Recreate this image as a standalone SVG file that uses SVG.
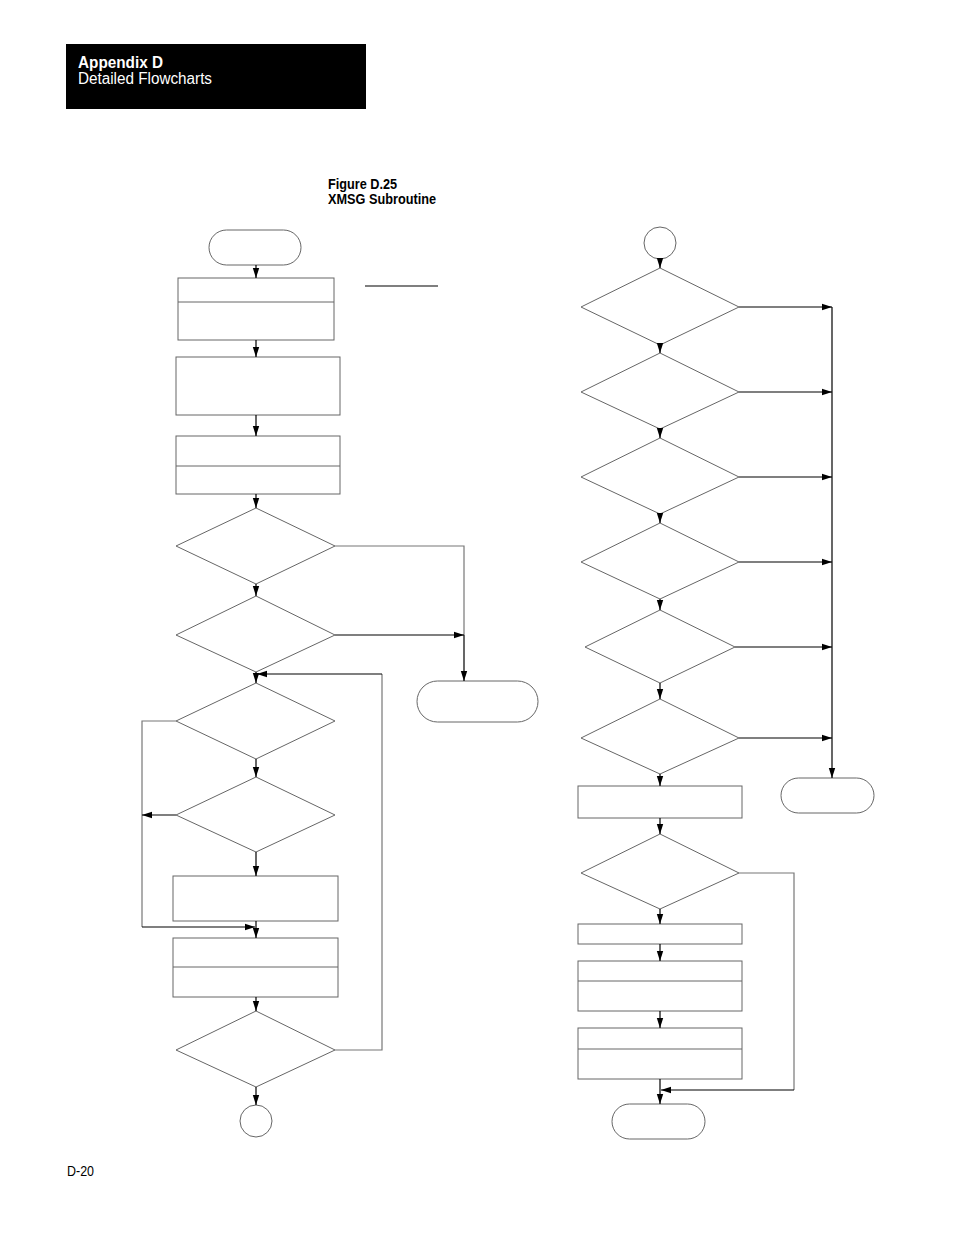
<svg xmlns="http://www.w3.org/2000/svg" width="954" height="1235" viewBox="0 0 954 1235">
<style>
.s{fill:#fff;stroke:#666;stroke-width:1}
.c{fill:none;stroke:#000;stroke-width:1.2}
.g{fill:none;stroke:#777;stroke-width:1.2}
.t{font-family:"Liberation Sans",Arial,sans-serif}
</style>
<defs>
<marker id="ah" markerUnits="userSpaceOnUse" markerWidth="11" markerHeight="8" refX="10" refY="4" orient="auto">
<path d="M0,0.8 L10,4 L0,7.2 Z" fill="#000"/>
</marker>
</defs>
<rect x="0" y="0" width="954" height="1235" fill="#fff"/>
<g id="header">
<rect x="66" y="44" width="300" height="65" fill="#000"/>
<text x="78" y="68" class="t" font-size="16" font-weight="bold" fill="#fff" textLength="85" lengthAdjust="spacingAndGlyphs">Appendix D</text>
<text x="78" y="84" class="t" font-size="16" fill="#fff" textLength="134" lengthAdjust="spacingAndGlyphs">Detailed Flowcharts</text>
</g>
<g id="title">
<text x="328" y="189" class="t" font-size="14" font-weight="bold" textLength="69" lengthAdjust="spacingAndGlyphs">Figure D.25</text>
<text x="328" y="204" class="t" font-size="14" font-weight="bold" textLength="108" lengthAdjust="spacingAndGlyphs">XMSG Subroutine</text>
</g>
<text id="page" x="67" y="1176" class="t" font-size="15" textLength="27" lengthAdjust="spacingAndGlyphs">D-20</text>

<g id="start"><rect class="s" x="209" y="230" width="92" height="35" rx="17.5"/></g>
<g id="box1"><rect class="s" x="178" y="278" width="156" height="62"/><line class="s" x1="178" y1="302" x2="334" y2="302"/></g>
<line id="underline" x1="365" y1="286" x2="438" y2="286" stroke="#000" stroke-width="1.2"/>
<g id="box2"><rect class="s" x="176" y="357" width="164" height="58"/></g>
<g id="box3"><rect class="s" x="176" y="436" width="164" height="58"/><line class="s" x1="176" y1="466" x2="340" y2="466"/></g>
<g id="dec1"><polygon class="s" points="256,508 335,546 256,584 176,546"/></g>
<g id="dec2"><polygon class="s" points="256,596 335,635 256,672 176,635"/></g>
<g id="exit1"><rect class="s" x="417" y="681" width="121" height="41" rx="20.5"/></g>
<g id="dec3"><polygon class="s" points="256,683 335,721 256,759 176,721"/></g>
<g id="dec4"><polygon class="s" points="256,777 335,815 256,852 176,815"/></g>
<g id="box4"><rect class="s" x="173" y="876" width="165" height="45"/></g>
<g id="box5"><rect class="s" x="173" y="938" width="165" height="59"/><line class="s" x1="173" y1="967" x2="338" y2="967"/></g>
<g id="dec5"><polygon class="s" points="256,1011 335,1050 256,1087 176,1050"/></g>
<g id="conn1"><circle class="s" cx="256" cy="1121" r="16"/></g>

<g id="conn2"><circle class="s" cx="660" cy="243" r="16"/></g>
<g id="decA"><polygon class="s" points="660,268 739,307 660,345 581,307"/></g>
<g id="decB"><polygon class="s" points="660,353 739,392 660,429 581,392"/></g>
<g id="decC"><polygon class="s" points="660,438 739,477 660,514 581,477"/></g>
<g id="decD"><polygon class="s" points="660,523 739,562 660,599 581,562"/></g>
<g id="decE"><polygon class="s" points="660,610 735,647 660,683 585,647"/></g>
<g id="decF"><polygon class="s" points="660,699 739,738 660,774 581,738"/></g>
<g id="exit2"><rect class="s" x="781" y="778" width="93" height="35" rx="17.5"/></g>
<g id="box6"><rect class="s" x="578" y="786" width="164" height="32"/></g>
<g id="decG"><polygon class="s" points="660,834 739,873 660,909 581,873"/></g>
<g id="box7"><rect class="s" x="578" y="924" width="164" height="20"/></g>
<g id="box8"><rect class="s" x="578" y="961" width="164" height="50"/><line class="s" x1="578" y1="981" x2="742" y2="981"/></g>
<g id="box9"><rect class="s" x="578" y="1028" width="164" height="51"/><line class="s" x1="578" y1="1049" x2="742" y2="1049"/></g>
<g id="end"><rect class="s" x="612" y="1104" width="93" height="35" rx="17.5"/></g>

<g id="connectors">
<path class="c" d="M256,265 V278" marker-end="url(#ah)"/>
<path class="c" d="M256,340 V357" marker-end="url(#ah)"/>
<path class="c" d="M256,415 V436" marker-end="url(#ah)"/>
<path class="c" d="M256,494 V508" marker-end="url(#ah)"/>
<path class="c" d="M256,584 V596" marker-end="url(#ah)"/>
<path class="g" d="M335,546 H464 V635"/>
<path class="c" d="M464,635 V681" marker-end="url(#ah)"/>
<path class="c" d="M335,635 H464" marker-end="url(#ah)"/>
<path class="c" d="M256,672 V683" marker-end="url(#ah)"/>
<path class="g" d="M335,1050 H382 V674"/>
<path class="c" d="M382,674 H257" marker-end="url(#ah)"/>
<path class="c" d="M256,759 V777" marker-end="url(#ah)"/>
<path class="g" d="M176,721 H142 V927"/>
<path class="c" d="M142,927 H255" marker-end="url(#ah)"/>
<path class="c" d="M176,815 H142" marker-end="url(#ah)"/>
<path class="c" d="M256,852 V876" marker-end="url(#ah)"/>
<path class="c" d="M256,921 V938" marker-end="url(#ah)"/>
<path class="c" d="M256,997 V1011" marker-end="url(#ah)"/>
<path class="c" d="M256,1087 V1105" marker-end="url(#ah)"/>

<path class="c" d="M660,259 V268" marker-end="url(#ah)"/>
<path class="c" d="M660,345 V353" marker-end="url(#ah)"/>
<path class="c" d="M660,429 V438" marker-end="url(#ah)"/>
<path class="c" d="M660,514 V523" marker-end="url(#ah)"/>
<path class="c" d="M660,599 V610" marker-end="url(#ah)"/>
<path class="c" d="M660,683 V699" marker-end="url(#ah)"/>
<path class="c" d="M660,774 V786" marker-end="url(#ah)"/>
<path class="c" d="M739,307 H832" marker-end="url(#ah)"/>
<path class="c" d="M739,392 H832" marker-end="url(#ah)"/>
<path class="c" d="M739,477 H832" marker-end="url(#ah)"/>
<path class="c" d="M739,562 H832" marker-end="url(#ah)"/>
<path class="c" d="M735,647 H832" marker-end="url(#ah)"/>
<path class="c" d="M739,738 H832" marker-end="url(#ah)"/>
<path class="c" d="M832,307 V778" marker-end="url(#ah)"/>
<path class="c" d="M660,818 V834" marker-end="url(#ah)"/>
<path class="c" d="M660,909 V924" marker-end="url(#ah)"/>
<path class="c" d="M660,944 V961" marker-end="url(#ah)"/>
<path class="c" d="M660,1011 V1028" marker-end="url(#ah)"/>
<path class="c" d="M660,1079 V1104" marker-end="url(#ah)"/>
<path class="g" d="M739,873 H794 V1090"/>
<path class="c" d="M794,1090 H661" marker-end="url(#ah)"/>
</g>
</svg>
